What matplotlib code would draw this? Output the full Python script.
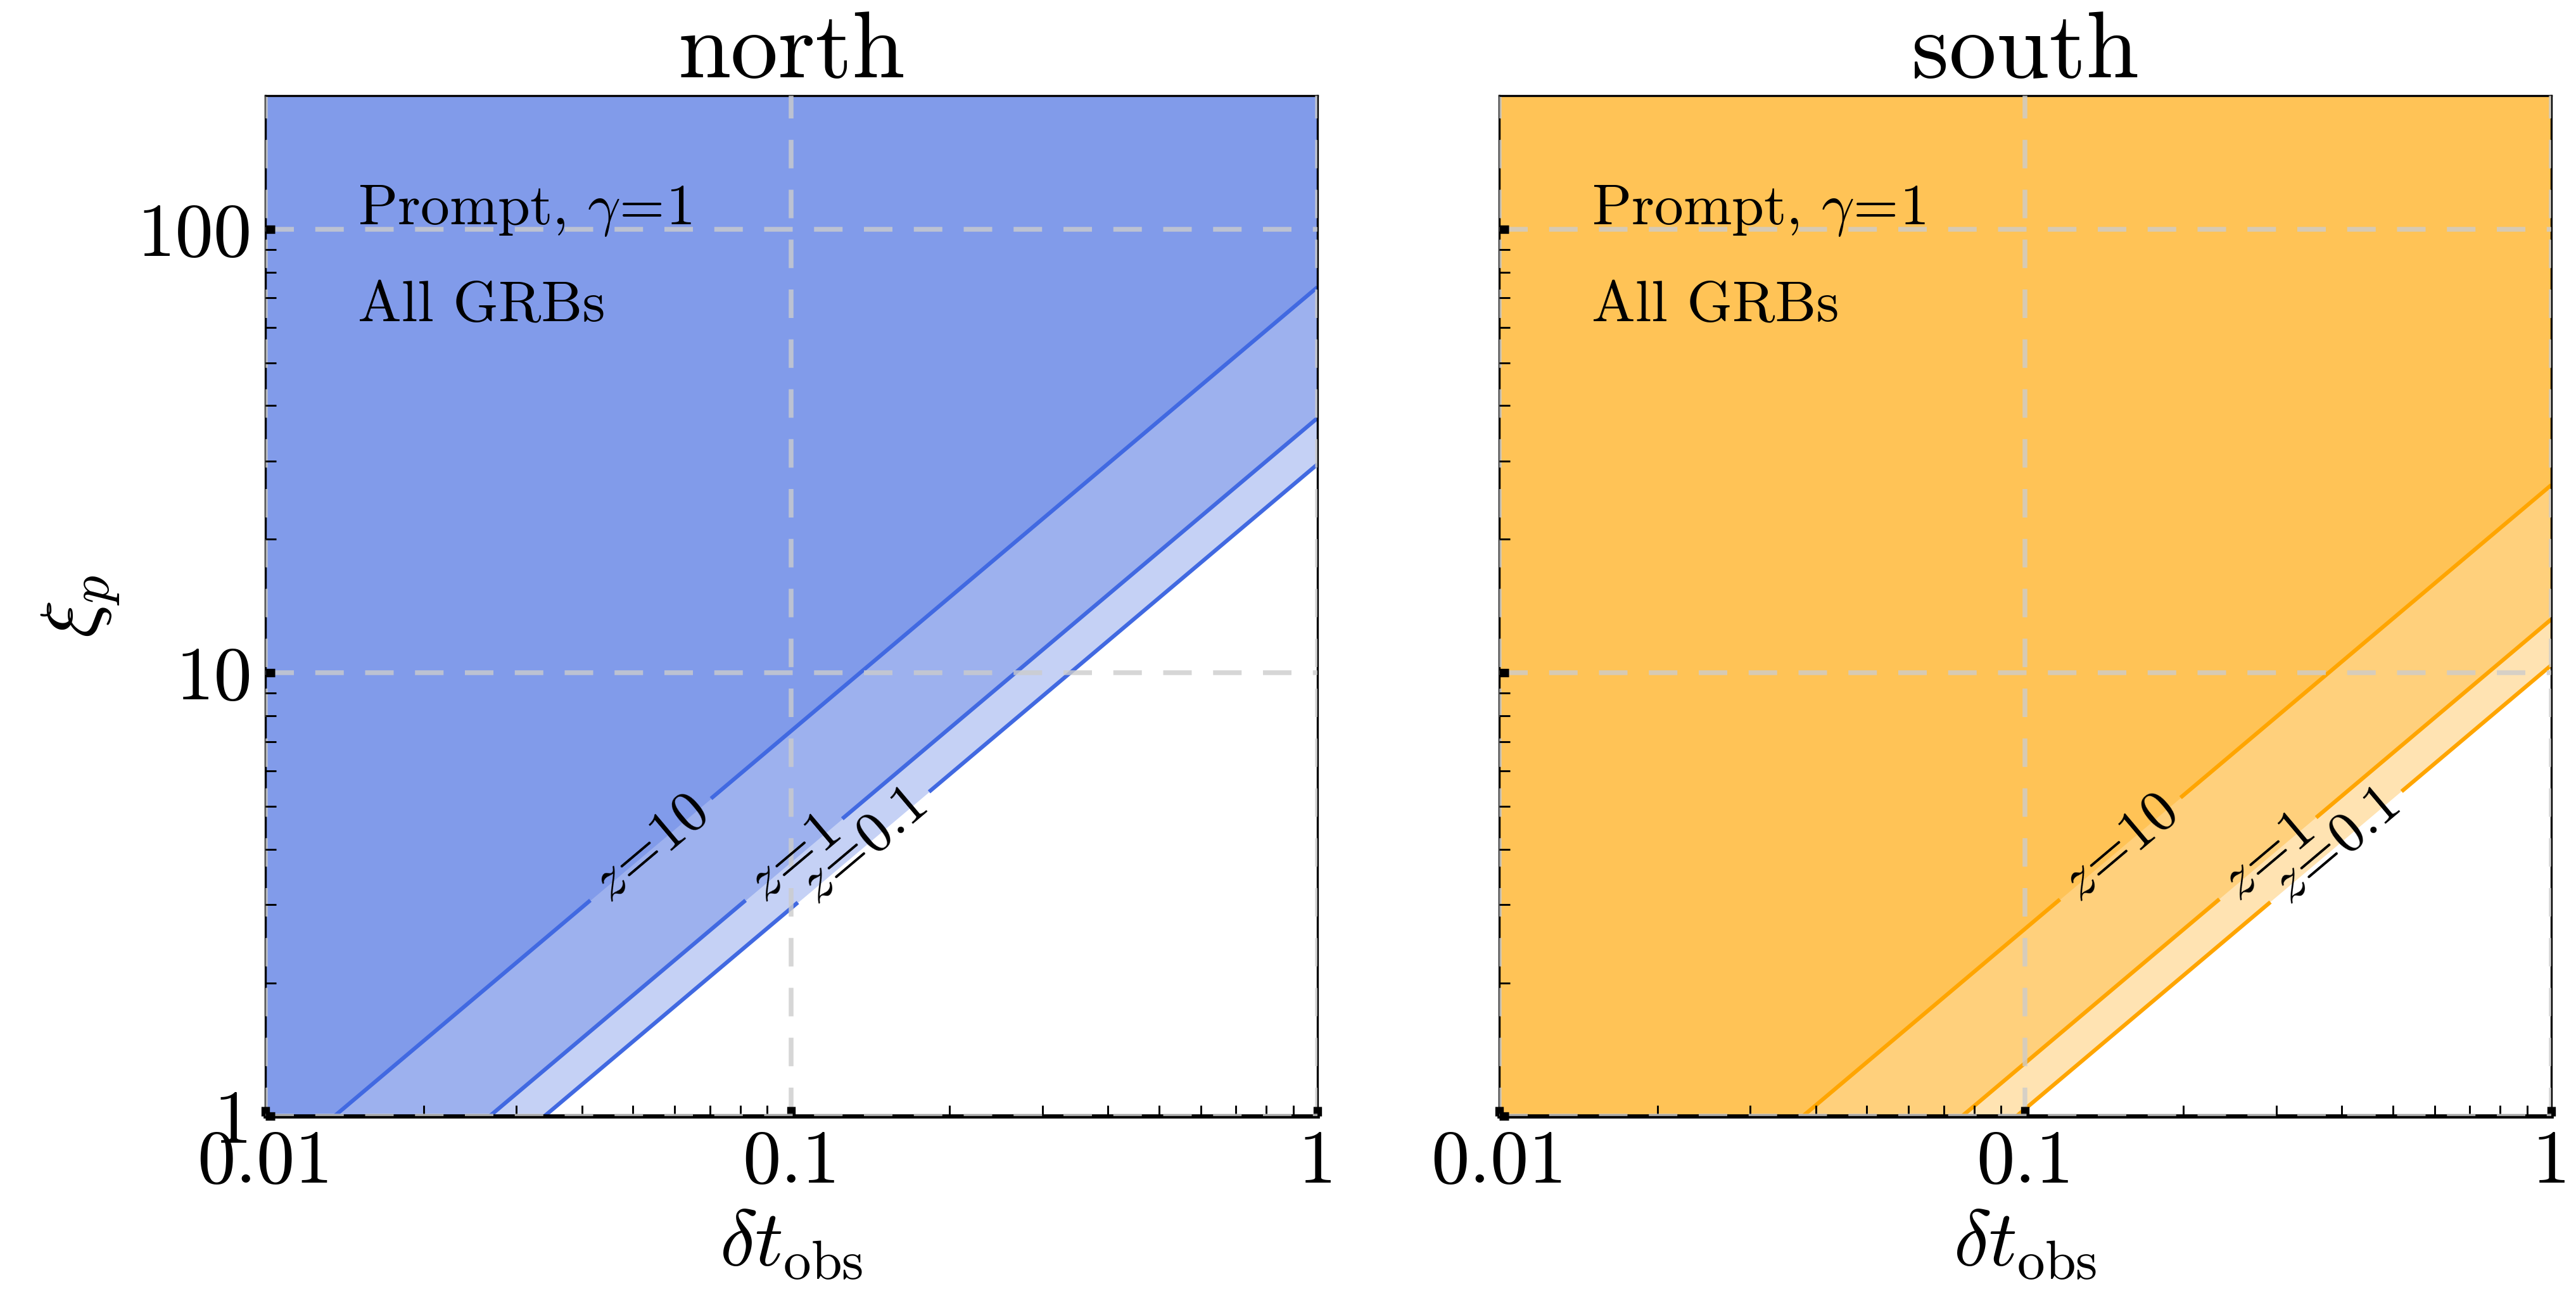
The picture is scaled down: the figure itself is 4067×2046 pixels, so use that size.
import numpy as np
import matplotlib.pyplot as plt
from matplotlib.ticker import FixedLocator, FixedFormatter, LogLocator, NullFormatter

plt.rcParams['font.family'] = 'serif'
plt.rcParams['font.serif'] = ['cmr10']
plt.rcParams['mathtext.fontset'] = 'cm'
plt.rcParams['axes.unicode_minus'] = False

# data: xi_p at dt_obs = 1 for each redshift (lines have slope 1)
redshifts = ['0.1', '1', '10']
xi_at_1_north = [29.5, 37.5, 74.0]
xi_at_1_south = [10.4, 13.2, 26.5]
# where the inline labels sit (dt_obs, xi_p)
label_pos_north = [(0.137, 4.05), (0.101, 3.8), (0.054, 4.0)]
label_pos_south = [(0.39, 4.05), (0.29, 3.8), (0.152, 4.0)]

panels = ['north', 'south']
colors = ['royalblue', 'orange']
xticks = [0.01, 0.1, 1]
xticklabels = ['0.01', '0.1', '1']
yticks = [1, 10, 100]
yticklabels = ['1', '10', '100']

fig = plt.figure(figsize=(4067 / 300, 2046 / 300), dpi=300)
ax1 = fig.add_axes([0.1030, 0.1386, 0.4084, 0.7876])
ax2 = fig.add_axes([0.5820, 0.1386, 0.4084, 0.7876])

dt = np.logspace(-2, 0, 400)
xi = np.logspace(0, np.log10(200), 400)
DT, XI = np.meshgrid(dt, xi)
ratio = XI / DT

for ax, name, col, norms, lpos in zip([ax1, ax2], panels, colors,
                                      [xi_at_1_north, xi_at_1_south],
                                      [label_pos_north, label_pos_south]):
    ax.set_xscale('log')
    ax.set_yscale('log')
    ax.set_xlim(0.01, 1)
    ax.set_ylim(1, 200)

    for a in norms:
        ax.fill_between(dt, a * dt, 200, color=col, alpha=0.3, lw=0, zorder=1)

    cs = ax.contour(DT, XI, ratio, levels=norms, colors=col, linewidths=1.5, zorder=2)
    fmt = {lev: r'$z\!=\!%s$' % z for lev, z in zip(cs.levels, redshifts)}
    ax.clabel(cs, fmt=fmt, fontsize=22, colors='k', inline=True,
              inline_spacing=20, manual=lpos)

    ax.grid(which='major', ls=(0, (6, 4.5)), color='0.8', alpha=0.8, lw=1.8, zorder=3)
    ax.set_axisbelow(False)

    ax.xaxis.set_major_locator(FixedLocator(xticks))
    ax.xaxis.set_major_formatter(FixedFormatter(xticklabels))
    ax.xaxis.set_minor_locator(LogLocator(base=10, subs=np.arange(2, 10)))
    ax.xaxis.set_minor_formatter(NullFormatter())
    ax.yaxis.set_major_locator(FixedLocator(yticks))
    ax.yaxis.set_minor_locator(LogLocator(base=10, subs=np.arange(2, 10)))
    ax.yaxis.set_minor_formatter(NullFormatter())
    if ax is ax1:
        ax.yaxis.set_major_formatter(FixedFormatter(yticklabels))
    else:
        ax.yaxis.set_major_formatter(NullFormatter())

    ax.tick_params(which='major', direction='in', length=3.5, width=3.2,
                   labelsize=29, top=False, right=False, pad=5)
    ax.tick_params(which='minor', direction='in', length=4, width=0.7,
                   top=False, right=False)

    for s in ['top', 'right', 'left']:
        ax.spines[s].set_linewidth(0.8)
    ax.spines['bottom'].set_linewidth(1.6)

    ax.set_title(name, fontsize=36, pad=6)
    ax.set_xlabel(r'$\delta t_{\rm obs}$', fontsize=30, labelpad=4)

    ax.text(0.088, 0.887, r'Prompt, $\gamma\!=\!1$', transform=ax.transAxes,
            fontsize=22, va='center', ha='left')
    ax.text(0.088, 0.793, 'All GRBs', transform=ax.transAxes,
            fontsize=22, va='center', ha='left')

ax1.set_ylabel(r'$\xi_p$', fontsize=30, labelpad=6)

fig.savefig('out.png', dpi=300)
